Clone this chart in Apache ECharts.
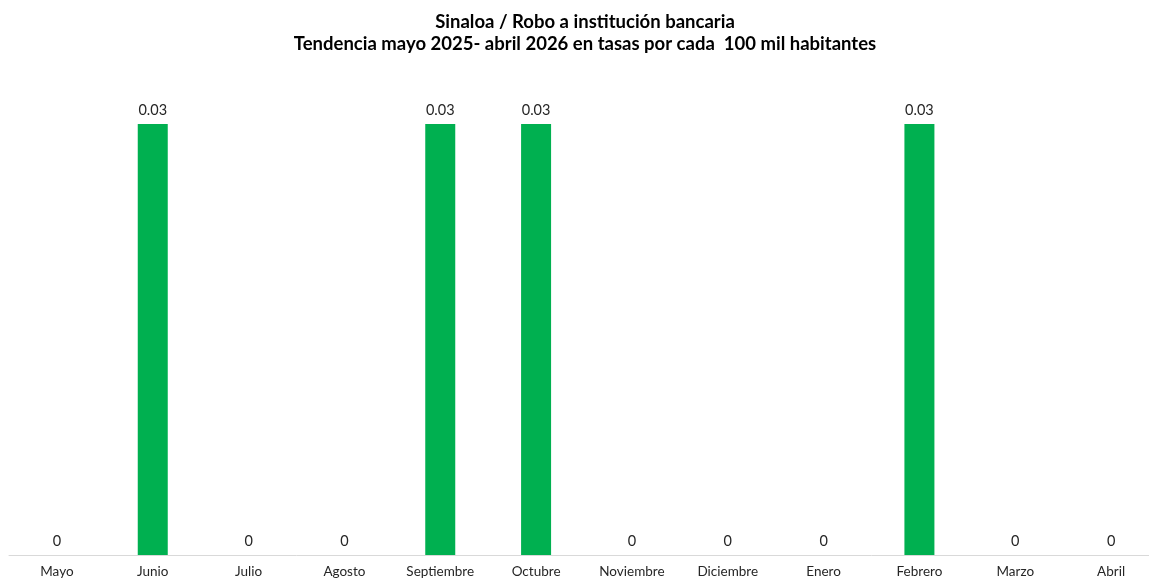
<!DOCTYPE html>
<html>
<head>
<meta charset="utf-8">
<script src="https://cdn.jsdelivr.net/npm/echarts@6/dist/echarts.min.js"></script>
<style>
html, body { margin: 0; padding: 0; background: #fff; overflow: hidden; }
#chart { width: 1160px; height: 579px; }
</style>
</head>
<body>
<div id="chart"></div>
<script>
var meses = ["Mayo", "Junio", "Julio", "Agosto", "Septiembre", "Octubre", "Noviembre", "Diciembre", "Enero", "Febrero", "Marzo", "Abril"];
var tasas = [0, 0.03, 0, 0, 0.03, 0.03, 0, 0, 0, 0.03, 0, 0];

var myChart = echarts.init(document.getElementById("chart"));
var option = {
    backgroundColor: "#ffffff",
    animation: false,
    title: {
        text: "Sinaloa / Robo a institución bancaria\nTendencia mayo 2025- abril 2026 en tasas por cada  100 mil habitantes",
        left: 580,
        textAlign: "center",
        top: 6,
        textStyle: {
            fontFamily: "Lato",
            fontWeight: "bold",
            fontSize: 18.5,
            lineHeight: 22,
            color: "#000"
        }
    },
    grid: { left: 9, right: 1, top: 124, bottom: 24, containLabel: false },
    xAxis: {
        type: "category",
        data: meses,
        axisLine: { lineStyle: { color: "#d9d9d9", width: 1 } },
        axisTick: { show: false },
        axisLabel: {
            interval: 0,
            fontFamily: "Lato",
            fontSize: 13.5,
            color: "#262626",
            margin: 10
        }
    },
    yAxis: {
        type: "value",
        min: 0,
        max: 0.03,
        show: false,
        splitLine: { show: false }
    },
    series: [{
        type: "bar",
        data: tasas,
        barWidth: 30,
        itemStyle: { color: "#00b050" },
        label: {
            show: true,
            position: "top",
            distance: 6,
            fontFamily: "Lato",
            fontSize: 14.5,
            color: "#262626",
            formatter: function (p) {
                return p.value === 0 ? "0" : p.value.toFixed(2);
            }
        }
    }]
};
myChart.setOption(option);
</script>
</body>
</html>
